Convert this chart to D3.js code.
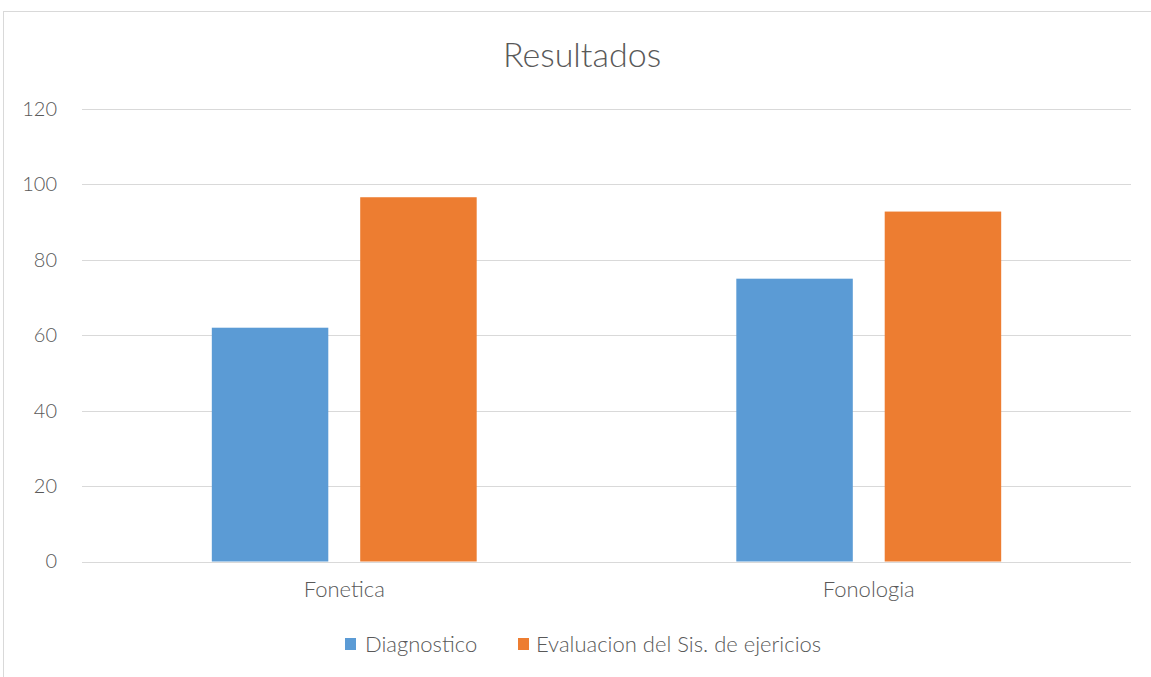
<!DOCTYPE html>
<html>
<head>
<meta charset="utf-8">
<script src="https://cdn.jsdelivr.net/npm/d3@7"></script>
<style>
  body { margin: 0; background: #fff; }
  text { font-family: Lato, "Liberation Sans", sans-serif; font-weight: 300; fill: #595959; }
</style>
</head>
<body>
<svg id="chart" width="1151" height="677"></svg>
<script>
// datos del grafico
const categories = ["Fonetica", "Fonologia"];
const seriesNames = ["Diagnostico", "Evaluacion del Sis. de ejericios"];
const diagnostico = [62, 75];
const evaluacion = [96.6, 92.8];
const yTicks = [0, 20, 40, 60, 80, 100, 120];
const colors = ["#5B9BD5", "#ED7D31"];

const svg = d3.select("#chart"),
    width = +svg.attr("width"),
    height = +svg.attr("height");

// marco exterior
svg.append("rect")
    .attr("x", 3.5).attr("y", 11.5)
    .attr("width", 1160).attr("height", 700)
    .attr("fill", "none")
    .attr("stroke", "#D9D9D9");

const margin = { left: 82, top: 109 };

const g = svg.append("g").attr("transform", `translate(${margin.left},${margin.top})`);

const y = d3.scaleLinear().domain([0, 120]).range([452.5, 0]);
const x0 = d3.scaleBand().domain(categories).range([0, 1049]).paddingInner(0.495).paddingOuter(0.2475);
const x1 = d3.scaleBand().domain(seriesNames).range([0, x0.bandwidth()]).paddingInner(0.215);

// lineas de cuadricula
g.append("g")
    .selectAll("line")
    .data(yTicks)
    .enter().append("line")
    .attr("x1", 0).attr("x2", 1049)
    .attr("y1", d => Math.round(y(d)) + 0.5)
    .attr("y2", d => Math.round(y(d)) + 0.5)
    .attr("stroke", "#D9D9D9")
    .attr("stroke-width", 1);

// eje y
const yAxis = g.append("g")
    .call(d3.axisLeft(y).tickValues(yTicks).tickSize(0).tickPadding(25));
yAxis.select(".domain").remove();
yAxis.selectAll("text").attr("font-size", "20px").attr("font-family", "Lato").attr("fill", "#595959");

// barras
const rows = categories.map((c, i) => ({ cat: c, vals: [diagnostico[i], evaluacion[i]] }));
const groups = g.selectAll(".grupo")
    .data(rows)
    .enter().append("g")
    .attr("class", "grupo")
    .attr("transform", d => `translate(${x0(d.cat)},0)`);

groups.selectAll("rect")
    .data(d => d.vals.map((v, j) => ({ name: seriesNames[j], v: v, j: j })))
    .enter().append("rect")
    .attr("x", d => x1(d.name))
    .attr("y", d => y(d.v))
    .attr("width", x1.bandwidth())
    .attr("height", d => y(0) - y(d.v))
    .attr("fill", d => colors[d.j]);

// eje x
const xAxis = g.append("g")
    .attr("transform", `translate(0,${y(0)})`)
    .call(d3.axisBottom(x0).tickSize(0).tickPadding(20));
xAxis.select(".domain").remove();
xAxis.selectAll("text").attr("font-size", "22px").attr("font-family", "Lato").attr("fill", "#595959");

// titulo
svg.append("text")
    .attr("x", 582).attr("y", 67)
    .attr("text-anchor", "middle")
    .attr("font-size", "34px")
    .text("Resultados");

// leyenda
const legend = svg.append("g").attr("transform", "translate(345,645)");
const legX = [0, 173];
const legGap = [20, 18];
seriesNames.forEach((s, i) => {
    legend.append("rect")
        .attr("x", legX[i]).attr("y", -7)
        .attr("width", 11).attr("height", 12)
        .attr("fill", colors[i]);
    legend.append("text")
        .attr("x", legX[i] + legGap[i]).attr("y", 7)
        .attr("font-size", "22px")
        .text(s);
});
</script>
</body>
</html>
